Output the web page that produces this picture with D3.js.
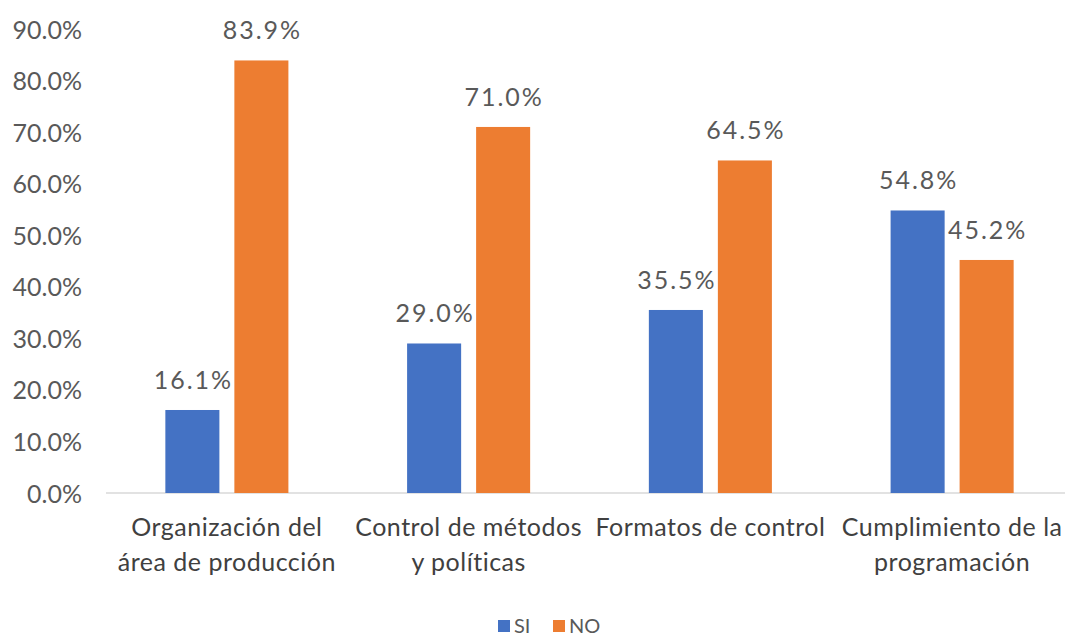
<!DOCTYPE html>
<html>
<head>
<meta charset="utf-8">
<script src="https://cdn.jsdelivr.net/npm/d3@7"></script>
<style>
  html, body { margin: 0; padding: 0; background: #fff; }
  svg { display: block; }
  text { font-family: Lato, "Open Sans", sans-serif; }
</style>
</head>
<body>
<svg id="chart" width="1065" height="636"></svg>
<script>
// Categories (each label split into its display lines)
const categories = [
  ["Organización del", "área de producción"],
  ["Control de métodos", "y políticas"],
  ["Formatos de control"],
  ["Cumplimiento de la", "programación"]
];
const seriesNames = ["SI", "NO"];
const siValues = [16.1, 29.0, 35.5, 54.8];
const noValues = [83.9, 71.0, 64.5, 45.2];
const yTicks = [0, 10, 20, 30, 40, 50, 60, 70, 80, 90];

const colors = { SI: "#4472C4", NO: "#ED7D31" };

const svg = d3.select("#chart");
const W = 1065, H = 636;

const x0 = d3.scaleBand()
  .domain(d3.range(categories.length))
  .range([106, 1073])
  .paddingInner(0)
  .paddingOuter(0);

const x1 = d3.scaleBand()
  .domain(seriesNames)
  .range([0, x0.bandwidth()])
  .paddingInner(0.217)
  .paddingOuter(0.86);

const y = d3.scaleLinear().domain([0, 90]).range([493, 29]);

// Y axis tick labels (no line, no ticks)
const yAxis = d3.axisLeft(y)
  .tickValues(yTicks)
  .tickFormat(d => d.toFixed(1) + "%")
  .tickSize(0)
  .tickPadding(0);

const yg = svg.append("g")
  .attr("transform", "translate(82,0)")
  .call(yAxis);
yg.select(".domain").remove();
yg.selectAll("text")
  .attr("fill", "#595959")
  .style("font-size", "25px")
  .attr("dy", "0.36em");

// Baseline
svg.append("line")
  .attr("x1", 106).attr("x2", W)
  .attr("y1", y(0)).attr("y2", y(0))
  .attr("stroke", "#d9d9d9")
  .attr("stroke-width", 1.5);

const rows = categories.map((c, i) => ({
  i,
  values: [
    { key: "SI", value: siValues[i] },
    { key: "NO", value: noValues[i] }
  ]
}));

const groups = svg.append("g").selectAll("g")
  .data(rows)
  .join("g")
  .attr("transform", d => `translate(${x0(d.i)},0)`);

groups.selectAll("rect")
  .data(d => d.values)
  .join("rect")
  .attr("x", d => x1(d.key))
  .attr("width", x1.bandwidth())
  .attr("y", d => y(d.value))
  .attr("height", d => y(0) - y(d.value))
  .attr("fill", d => colors[d.key]);

groups.selectAll("text.val")
  .data(d => d.values)
  .join("text")
  .attr("class", "val")
  .attr("x", d => x1(d.key) + x1.bandwidth() / 2 + 1)
  .attr("y", d => y(d.value) - 21)
  .attr("text-anchor", "middle")
  .attr("fill", "#595959")
  .style("font-size", "25px")
  .style("letter-spacing", "2px")
  .text(d => d.value.toFixed(1) + "%");

// Category labels
const cat = svg.append("g").selectAll("text")
  .data(categories)
  .join("text")
  .attr("x", (d, i) => x0(i) + x0.bandwidth() / 2)
  .attr("y", 536)
  .attr("text-anchor", "middle")
  .attr("fill", "#404040")
  .style("font-size", "25px")
  .style("letter-spacing", "0.5px");
cat.selectAll("tspan")
  .data(d => d)
  .join("tspan")
  .attr("x", function() { return d3.select(this.parentNode).attr("x"); })
  .attr("dy", (d, j) => j === 0 ? 0 : 35)
  .text(d => d);

// Legend
const legend = svg.append("g").attr("transform", "translate(498,626)");
const items = [{ key: "SI", x: 0 }, { key: "NO", x: 55 }];
const li = legend.selectAll("g").data(items).join("g")
  .attr("transform", d => `translate(${d.x},0)`);
li.append("rect")
  .attr("x", 0).attr("y", -6)
  .attr("width", 12).attr("height", 12)
  .attr("fill", d => colors[d.key]);
li.append("text")
  .attr("x", 16).attr("y", 0).attr("dy", "0.36em")
  .attr("fill", "#595959")
  .style("font-size", "20px")
  .text(d => d.key);
</script>
</body>
</html>
